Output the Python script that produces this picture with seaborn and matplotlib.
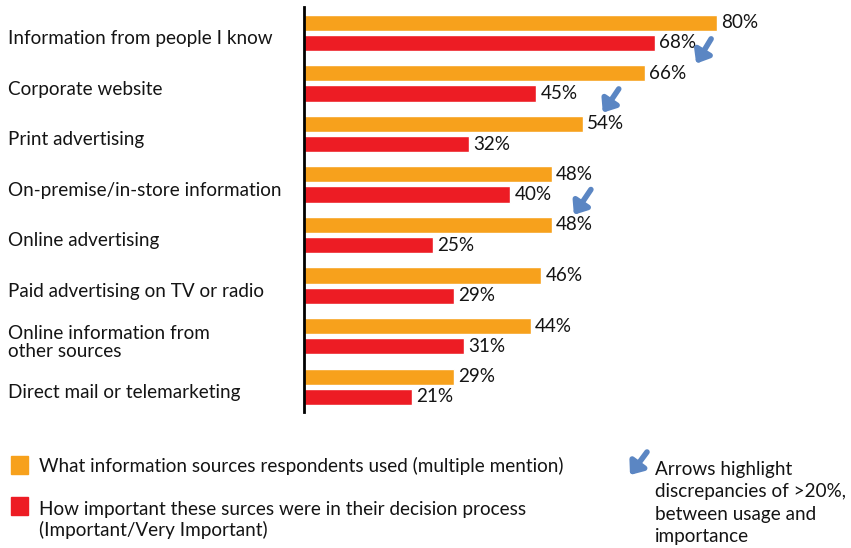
import matplotlib
matplotlib.use("Agg")
import matplotlib.pyplot as plt
from matplotlib.patches import Rectangle, FancyArrowPatch
from matplotlib.transforms import ScaledTranslation
import pandas as pd
import seaborn as sns

# --- data -------------------------------------------------------------
sources = [
    "Information from people I know",
    "Corporate website",
    "Print advertising",
    "On-premise/in-store information",
    "Online advertising",
    "Paid advertising on TV or radio",
    "Online information from\nother sources",
    "Direct mail or telemarketing",
]
used = [80, 66, 54, 48, 48, 46, 44, 29]
important = [68, 45, 32, 40, 25, 29, 31, 21]

series_names = [
    "What information sources respondents used (multiple mention)",
    "How important these surces were in their decision process\n(Important/Very Important)",
]
note_text = "Arrows highlight\ndiscrepancies of >20%,\nbetween usage and\nimportance"

ORANGE = "#F7A11C"
RED = "#ED1C24"
BLUE = "#5B86C3"
TEXT = "#141414"
FS = 13.6

df = pd.DataFrame({
    "source": sources * 2,
    "value": used + important,
    "series": [series_names[0]] * len(sources) + [series_names[1]] * len(sources),
})

# --- figure -----------------------------------------------------------
W, H = 851, 548
sns.set_theme(style="white")
plt.rcParams["font.family"] = ["Lato", "DejaVu Sans"]

fig = plt.figure(figsize=(W / 100, H / 100), dpi=100)
ax_left, ax_right = 304 / W, (304 + 516) / W
ax_top, ax_bot = 1 - 7 / H, 1 - 412 / H
ax = fig.add_axes([ax_left, ax_bot, ax_right - ax_left, ax_top - ax_bot])

sns.barplot(data=df, y="source", x="value", hue="series", orient="h",
            palette=[ORANGE, RED], width=0.8, gap=0.2, legend=False,
            saturation=1, ax=ax)

ax.set_xlim(0, 100)
ax.set_ylim(7.5, -0.51)
ax.set_xlabel("")
ax.set_ylabel("")
ax.set_xticks([])

for side in ["top", "right", "bottom"]:
    ax.spines[side].set_visible(False)
ax.spines["left"].set_color("black")
ax.spines["left"].set_linewidth(2.0)

# category labels, left aligned at the figure edge
ax.tick_params(axis="y", length=0, pad=(304 - 8) * 0.72)
shift = ScaledTranslation(0, -3 / 72, fig.dpi_scale_trans)
for lab in ax.get_yticklabels():
    lab.set_horizontalalignment("left")
    lab.set_fontsize(FS)
    lab.set_color(TEXT)
    lab.set_linespacing(1.05)
    lab.set_transform(lab.get_transform() + shift)

# value labels
for cont in ax.containers:
    ax.bar_label(cont, fmt="%d%%", padding=3, fontsize=FS, color=TEXT)

# discrepancy arrows (data coordinates)
arrow_kw = dict(arrowstyle="-|>,head_length=0.5,head_width=0.4",
                color=BLUE, lw=4, mutation_scale=14, shrinkA=0, shrinkB=0)
arrows = [((78.9, 0.12), (76.0, 0.61)),
          ((61.0, 1.11), (57.9, 1.58)),
          ((55.6, 3.10), (52.3, 3.60))]
for tail, head in arrows:
    ax.annotate("", xy=head, xytext=tail, arrowprops=arrow_kw)

# --- legend ------------------------------------------------------------
def fx(px):
    return px / W

def fy(py):
    return 1 - py / H

fig.add_artist(Rectangle((fx(11), fy(474)), 17 / W, 18 / H,
                         transform=fig.transFigure, color=ORANGE))
fig.text(fx(39), fy(466), series_names[0], fontsize=FS,
         va="center", ha="left", color=TEXT)

fig.add_artist(Rectangle((fx(11), fy(515)), 17 / W, 18 / H,
                         transform=fig.transFigure, color=RED))
fig.text(fx(39), fy(520), series_names[1], fontsize=FS,
         va="center", ha="left", color=TEXT, linespacing=1.16)

fig.add_artist(FancyArrowPatch(
    (fx(647), fy(452)), (fx(630), fy(475)), transform=fig.transFigure,
    **arrow_kw))
fig.text(fx(655), fy(503), note_text, fontsize=FS, va="center",
         ha="left", color=TEXT, linespacing=1.37)

fig.savefig("out.png", dpi=100, facecolor="white")
